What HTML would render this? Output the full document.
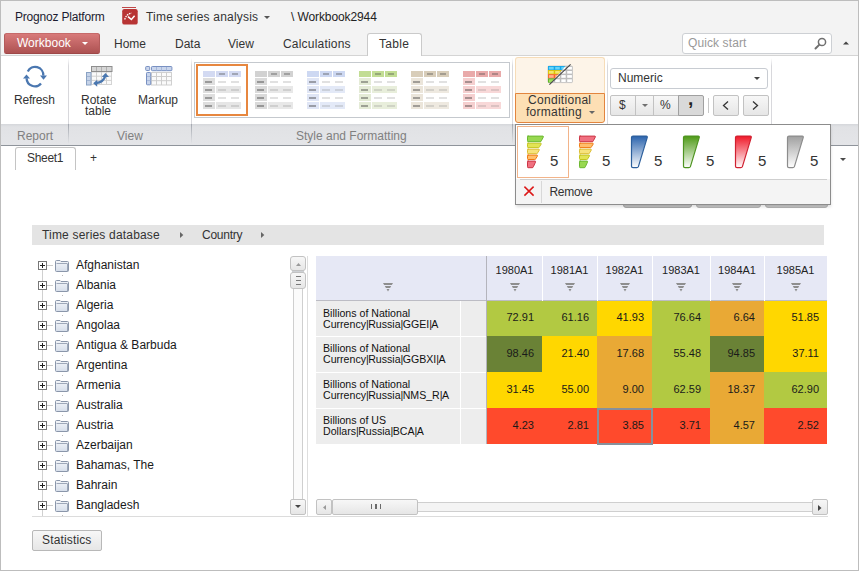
<!DOCTYPE html>
<html><head><meta charset="utf-8">
<style>
*{box-sizing:border-box;margin:0;padding:0}
html,body{width:859px;height:571px;overflow:hidden;background:#fff}
body{position:relative;font-family:"Liberation Sans",sans-serif;font-size:12px;color:#222}
.a{position:absolute}
.t{position:absolute;white-space:nowrap;line-height:12px;font-size:12px}
.s11{font-size:11px;line-height:11px}
.tab{position:absolute;top:37px;color:#333}
.grp{position:absolute;top:129px;color:#808080}
.btn{position:absolute;border:1px solid #c2c2c2;border-radius:2px;background:linear-gradient(#f7f7f7,#e6e6e6)}
.tr{position:absolute;left:0;height:20px;width:300px}
</style></head><body>
<!-- outer frame -->
<div class="a" style="left:0;top:0;width:859px;height:571px;border:1px solid #bdbdbd;z-index:5"></div>
<!-- header bg -->
<div class="a" style="left:1px;top:1px;width:857px;height:55px;background:#f3f3f3;border-bottom:1px solid #d4d4d4"></div>

<div class="t" id="pp" style="left:15px;top:11px;color:#1c1c30;letter-spacing:-0.2px">Prognoz Platform</div>
<!-- app icon -->
<svg class="a" style="left:121px;top:6px" width="18" height="20" viewBox="0 0 18 20">
 <rect x="1" y="1" width="14" height="1" fill="#c04848"/>
 <rect x="1.2" y="3" width="15.5" height="15.6" rx="2.2" fill="#b83434"/>
 <path d="M3.7 13.5 Q5 8.5 10.5 7" stroke="#fff" stroke-width="1.3" stroke-dasharray="1.6 0.8" fill="none"/>
 <path d="M7 10.6 L10.4 13.5 L13.6 9.8" stroke="#fff" stroke-width="1.5" fill="none"/>
</svg>
<div class="t" id="tsa" style="left:146px;top:11px;color:#333;letter-spacing:0.2px">Time series analysis</div>
<svg class="a" style="left:263.5px;top:16px" width="6" height="3"><path d="M0 0H6L3 3Z" fill="#555"/></svg>
<div class="t" id="wb" style="left:291px;top:11px;color:#222;letter-spacing:-0.1px">\ Workbook2944</div>

<!-- Workbook button -->
<div class="a" style="left:4px;top:33px;width:96px;height:21px;border-radius:2.5px;background:linear-gradient(#d87a7a,#ad5252);border:1px solid;border-color:#c66a6a #b35b5b #9e4848"></div>
<div class="t" style="left:17px;top:37px;color:#fff">Workbook</div>
<svg class="a" style="left:82px;top:42px" width="6" height="3"><path d="M0 0H6L3 3Z" fill="#fff"/></svg>

<div class="tab" style="left:114px">Home</div>
<div class="tab" style="left:175px">Data</div>
<div class="tab" style="left:228px">View</div>
<div class="tab" style="left:283px;letter-spacing:0.2px">Calculations</div>
<div class="a" style="left:367px;top:33px;width:55px;height:24px;background:#fff;border:1px solid #cacaca;border-bottom:none;border-radius:3px 3px 0 0"></div>
<div class="tab" style="left:379px;letter-spacing:0.3px">Table</div>

<!-- quick start -->
<div class="a" style="left:682px;top:33px;width:150px;height:21px;background:#fff;border:1px solid #cdd0d4;border-radius:3px"></div>
<div class="t" style="left:688px;top:37px;color:#999;letter-spacing:0.1px">Quick start</div>
<svg class="a" style="left:814px;top:37px" width="13" height="13" viewBox="0 0 13 13"><circle cx="8" cy="5" r="3.6" stroke="#707070" stroke-width="1.5" fill="none"/><path d="M5.4 7.6 L1.5 11.5" stroke="#707070" stroke-width="2" stroke-linecap="round"/></svg>
<svg class="a" style="left:843px;top:41px" width="6" height="4"><path d="M0 3.5H6L3 0.5Z" fill="#444"/></svg>

<!-- ribbon body -->
<div class="a" style="left:1px;top:56px;width:857px;height:68px;background:#fff"></div>
<!-- label bar -->
<div class="a" style="left:1px;top:124px;width:857px;height:21px;background:linear-gradient(#d5d7db,#e1e2e5 3px,#e4e5e8)"></div>
<div class="a" style="left:1px;top:145px;width:857px;height:1px;background:#8f949b"></div>
<div class="grp" style="left:17px">Report</div>
<div class="grp" style="left:117px">View</div>
<div class="grp" style="left:296px">Style and Formatting</div>
<!-- separators -->
<div class="a" style="left:68px;top:58px;width:1px;height:66px;background:linear-gradient(rgba(216,216,220,0),#d8d8dc 8px)"></div>
<div class="a" style="left:191px;top:58px;width:1px;height:66px;background:linear-gradient(rgba(216,216,220,0),#d8d8dc 8px)"></div>
<div class="a" style="left:512px;top:58px;width:1px;height:66px;background:linear-gradient(rgba(216,216,220,0),#d8d8dc 8px)"></div>
<div class="a" style="left:607px;top:58px;width:1px;height:66px;background:linear-gradient(rgba(216,216,220,0),#d8d8dc 8px)"></div>
<div class="a" style="left:771px;top:58px;width:1px;height:66px;background:linear-gradient(rgba(216,216,220,0),#d8d8dc 8px)"></div>
<div class="a" style="left:68px;top:124px;width:1px;height:20px;background:linear-gradient(#a4a8b0,rgba(200,202,206,0))"></div>
<div class="a" style="left:191px;top:124px;width:1px;height:20px;background:linear-gradient(#a4a8b0,rgba(200,202,206,0))"></div>
<div class="a" style="left:512px;top:124px;width:1px;height:20px;background:linear-gradient(#a4a8b0,rgba(200,202,206,0))"></div>
<div class="a" style="left:607px;top:124px;width:1px;height:20px;background:linear-gradient(#a4a8b0,rgba(200,202,206,0))"></div>
<div class="a" style="left:771px;top:124px;width:1px;height:20px;background:linear-gradient(#a4a8b0,rgba(200,202,206,0))"></div>

<!-- Refresh -->
<svg class="a" style="left:18px;top:60px" width="36" height="32" viewBox="0 0 36 32">
 <path d="M9.8 11.4 A8.2 8.2 0 0 1 25.3 15.6" stroke="#4a77b0" stroke-width="2.3" fill="none"/>
 <path d="M23 23.4 A8.2 8.2 0 0 1 8.6 18.2" stroke="#4a77b0" stroke-width="2.3" fill="none"/>
 <path d="M22 15.4 H29 L25.5 19.8 Z" fill="#4a77b0"/>
 <path d="M5 18.6 H12 L8.5 14.6 Z" fill="#4a77b0"/>
</svg>
<div class="t" style="left:14px;top:94px;color:#333;letter-spacing:-0.2px">Refresh</div>
<!-- Rotate table -->
<svg class="a" style="left:82px;top:62px" width="34" height="28" viewBox="0 0 34 28">
 <rect x="9.5" y="10" width="20" height="12.5" fill="#fafafa" stroke="#d4d4d4"/>
 <path d="M14.5 10V22.5M19.5 10V22.5M24.5 10V22.5M9.5 14.2H29.5M9.5 18.4H29.5" stroke="#d0d0d0" stroke-width="1"/>
 <rect x="9.5" y="4.5" width="20.5" height="5" fill="#d6d6d6" stroke="#8e8e8e"/>
 <path d="M14.5 5V9M19.5 5V9M24.5 5V9" stroke="#b0b0b0"/>
 <rect x="4.5" y="10.5" width="4.5" height="12.5" fill="#c6d3e8" stroke="#8aa2c4"/>
 <path d="M5 14.5H8.5M5 18.5H8.5" stroke="#9fb3d2"/>
 <path d="M14 21 Q21.5 20.5 23.4 13.5" stroke="#4a77b0" stroke-width="2.4" fill="none"/>
 <path d="M23.5 11 L19.8 15 L27 15 Z" fill="#4a77b0"/>
 <path d="M11.2 21.3 L15.2 17.8 L15.2 24.8 Z" fill="#4a77b0"/>
</svg>
<div class="t" style="left:81px;top:94px;color:#333">Rotate</div>
<div class="t" style="left:85px;top:105px;color:#333">table</div>
<!-- Markup -->
<svg class="a" style="left:140px;top:62px" width="36" height="28" viewBox="0 0 36 28">
 <rect x="11.5" y="10.5" width="20" height="12.5" fill="#fafafa" stroke="#d0d0d0"/>
 <path d="M16.5 10.5V23M21.5 10.5V23M26.5 10.5V23M11.5 14.5H31.5M11.5 18.7H31.5" stroke="#cdcdcd" stroke-width="1"/>
 <rect x="5.7" y="4.5" width="4" height="4" rx="0.8" fill="#cbd6ec" stroke="#7890c2"/>
 <rect x="11.5" y="4.5" width="20.4" height="4.2" rx="0.8" fill="#c9d5ec" stroke="#7890c2"/>
 <path d="M16.5 5V8.5M21.5 5V8.5M26.5 5V8.5" stroke="#a5b7d8"/>
 <rect x="6.5" y="10.5" width="4.2" height="12.3" rx="0.8" fill="#c9d5ec" stroke="#7890c2"/>
 <path d="M7 14.5H10.5M7 18.6H10.5" stroke="#a5b7d8"/>
</svg>
<div class="t" style="left:138px;top:94px;color:#333">Markup</div>

<!-- GALLERY -->
<div class="a" style="left:194px;top:62px;width:316px;height:56px;border:1px solid #c5c9ce"></div>
<div class="a" style="left:196px;top:64px;width:52px;height:52px;border:2px solid #e7873f"></div>
<div class="a" style="left:203px;top:71px;width:12px;height:6px;background:#d3daf2"></div>
<div class="a" style="left:216px;top:71px;width:12px;height:6px;background:#d3daf2"></div>
<div class="a" style="left:229px;top:71px;width:12px;height:6px;background:#d3daf2"></div>
<div class="a" style="left:219px;top:73.0px;width:6px;height:2px;background:#444;opacity:.35"></div>
<div class="a" style="left:232px;top:73.0px;width:6px;height:2px;background:#444;opacity:.35"></div>
<div class="a" style="left:203px;top:78px;width:12px;height:7px;background:#dedede"></div>
<div class="a" style="left:205px;top:80.5px;width:7px;height:2px;background:#333;opacity:.4"></div>
<div class="a" style="left:218px;top:80.5px;width:8px;height:2px;background:#777;opacity:.22"></div>
<div class="a" style="left:231px;top:80.5px;width:8px;height:2px;background:#777;opacity:.22"></div>
<div class="a" style="left:203px;top:86px;width:12px;height:7px;background:#dedede"></div>
<div class="a" style="left:216px;top:86px;width:25px;height:7px;background:#e6e6e6"></div>
<div class="a" style="left:205px;top:88.5px;width:7px;height:2px;background:#333;opacity:.4"></div>
<div class="a" style="left:218px;top:88.5px;width:8px;height:2px;background:#777;opacity:.22"></div>
<div class="a" style="left:231px;top:88.5px;width:8px;height:2px;background:#777;opacity:.22"></div>
<div class="a" style="left:203px;top:94px;width:12px;height:7px;background:#dedede"></div>
<div class="a" style="left:205px;top:96.5px;width:7px;height:2px;background:#333;opacity:.4"></div>
<div class="a" style="left:218px;top:96.5px;width:8px;height:2px;background:#777;opacity:.22"></div>
<div class="a" style="left:231px;top:96.5px;width:8px;height:2px;background:#777;opacity:.22"></div>
<div class="a" style="left:203px;top:102px;width:12px;height:7px;background:#dedede"></div>
<div class="a" style="left:216px;top:102px;width:25px;height:7px;background:#e6e6e6"></div>
<div class="a" style="left:205px;top:104.5px;width:7px;height:2px;background:#333;opacity:.4"></div>
<div class="a" style="left:218px;top:104.5px;width:8px;height:2px;background:#777;opacity:.22"></div>
<div class="a" style="left:231px;top:104.5px;width:8px;height:2px;background:#777;opacity:.22"></div>
<div class="a" style="left:255px;top:71px;width:12px;height:6px;background:#d2d2d2"></div>
<div class="a" style="left:268px;top:71px;width:12px;height:6px;background:#d2d2d2"></div>
<div class="a" style="left:281px;top:71px;width:12px;height:6px;background:#d2d2d2"></div>
<div class="a" style="left:271px;top:73.0px;width:6px;height:2px;background:#444;opacity:.35"></div>
<div class="a" style="left:284px;top:73.0px;width:6px;height:2px;background:#444;opacity:.35"></div>
<div class="a" style="left:255px;top:78px;width:12px;height:7px;background:#dadada"></div>
<div class="a" style="left:257px;top:80.5px;width:7px;height:2px;background:#333;opacity:.4"></div>
<div class="a" style="left:270px;top:80.5px;width:8px;height:2px;background:#777;opacity:.22"></div>
<div class="a" style="left:283px;top:80.5px;width:8px;height:2px;background:#777;opacity:.22"></div>
<div class="a" style="left:255px;top:86px;width:12px;height:7px;background:#dadada"></div>
<div class="a" style="left:268px;top:86px;width:25px;height:7px;background:#e8e8e8"></div>
<div class="a" style="left:257px;top:88.5px;width:7px;height:2px;background:#333;opacity:.4"></div>
<div class="a" style="left:270px;top:88.5px;width:8px;height:2px;background:#777;opacity:.22"></div>
<div class="a" style="left:283px;top:88.5px;width:8px;height:2px;background:#777;opacity:.22"></div>
<div class="a" style="left:255px;top:94px;width:12px;height:7px;background:#dadada"></div>
<div class="a" style="left:257px;top:96.5px;width:7px;height:2px;background:#333;opacity:.4"></div>
<div class="a" style="left:270px;top:96.5px;width:8px;height:2px;background:#777;opacity:.22"></div>
<div class="a" style="left:283px;top:96.5px;width:8px;height:2px;background:#777;opacity:.22"></div>
<div class="a" style="left:255px;top:102px;width:12px;height:7px;background:#dadada"></div>
<div class="a" style="left:268px;top:102px;width:25px;height:7px;background:#e8e8e8"></div>
<div class="a" style="left:257px;top:104.5px;width:7px;height:2px;background:#333;opacity:.4"></div>
<div class="a" style="left:270px;top:104.5px;width:8px;height:2px;background:#777;opacity:.22"></div>
<div class="a" style="left:283px;top:104.5px;width:8px;height:2px;background:#777;opacity:.22"></div>
<div class="a" style="left:307px;top:71px;width:12px;height:6px;background:#cdd8f2"></div>
<div class="a" style="left:320px;top:71px;width:12px;height:6px;background:#cdd8f2"></div>
<div class="a" style="left:333px;top:71px;width:12px;height:6px;background:#cdd8f2"></div>
<div class="a" style="left:323px;top:73.0px;width:6px;height:2px;background:#444;opacity:.35"></div>
<div class="a" style="left:336px;top:73.0px;width:6px;height:2px;background:#444;opacity:.35"></div>
<div class="a" style="left:307px;top:78px;width:12px;height:7px;background:#dfe5f5"></div>
<div class="a" style="left:309px;top:80.5px;width:7px;height:2px;background:#333;opacity:.4"></div>
<div class="a" style="left:322px;top:80.5px;width:8px;height:2px;background:#777;opacity:.22"></div>
<div class="a" style="left:335px;top:80.5px;width:8px;height:2px;background:#777;opacity:.22"></div>
<div class="a" style="left:307px;top:86px;width:12px;height:7px;background:#dfe5f5"></div>
<div class="a" style="left:320px;top:86px;width:25px;height:7px;background:#e3e9f7"></div>
<div class="a" style="left:309px;top:88.5px;width:7px;height:2px;background:#333;opacity:.4"></div>
<div class="a" style="left:322px;top:88.5px;width:8px;height:2px;background:#777;opacity:.22"></div>
<div class="a" style="left:335px;top:88.5px;width:8px;height:2px;background:#777;opacity:.22"></div>
<div class="a" style="left:307px;top:94px;width:12px;height:7px;background:#dfe5f5"></div>
<div class="a" style="left:309px;top:96.5px;width:7px;height:2px;background:#333;opacity:.4"></div>
<div class="a" style="left:322px;top:96.5px;width:8px;height:2px;background:#777;opacity:.22"></div>
<div class="a" style="left:335px;top:96.5px;width:8px;height:2px;background:#777;opacity:.22"></div>
<div class="a" style="left:307px;top:102px;width:12px;height:7px;background:#dfe5f5"></div>
<div class="a" style="left:320px;top:102px;width:25px;height:7px;background:#e3e9f7"></div>
<div class="a" style="left:309px;top:104.5px;width:7px;height:2px;background:#333;opacity:.4"></div>
<div class="a" style="left:322px;top:104.5px;width:8px;height:2px;background:#777;opacity:.22"></div>
<div class="a" style="left:335px;top:104.5px;width:8px;height:2px;background:#777;opacity:.22"></div>
<div class="a" style="left:359px;top:71px;width:12px;height:6px;background:#c2dd94"></div>
<div class="a" style="left:372px;top:71px;width:12px;height:6px;background:#c2dd94"></div>
<div class="a" style="left:385px;top:71px;width:12px;height:6px;background:#c2dd94"></div>
<div class="a" style="left:375px;top:73.0px;width:6px;height:2px;background:#444;opacity:.35"></div>
<div class="a" style="left:388px;top:73.0px;width:6px;height:2px;background:#444;opacity:.35"></div>
<div class="a" style="left:359px;top:78px;width:12px;height:7px;background:#e4ebd6"></div>
<div class="a" style="left:361px;top:80.5px;width:7px;height:2px;background:#333;opacity:.4"></div>
<div class="a" style="left:374px;top:80.5px;width:8px;height:2px;background:#777;opacity:.22"></div>
<div class="a" style="left:387px;top:80.5px;width:8px;height:2px;background:#777;opacity:.22"></div>
<div class="a" style="left:359px;top:86px;width:12px;height:7px;background:#e4ebd6"></div>
<div class="a" style="left:372px;top:86px;width:25px;height:7px;background:#e8eedb"></div>
<div class="a" style="left:361px;top:88.5px;width:7px;height:2px;background:#333;opacity:.4"></div>
<div class="a" style="left:374px;top:88.5px;width:8px;height:2px;background:#777;opacity:.22"></div>
<div class="a" style="left:387px;top:88.5px;width:8px;height:2px;background:#777;opacity:.22"></div>
<div class="a" style="left:359px;top:94px;width:12px;height:7px;background:#e4ebd6"></div>
<div class="a" style="left:361px;top:96.5px;width:7px;height:2px;background:#333;opacity:.4"></div>
<div class="a" style="left:374px;top:96.5px;width:8px;height:2px;background:#777;opacity:.22"></div>
<div class="a" style="left:387px;top:96.5px;width:8px;height:2px;background:#777;opacity:.22"></div>
<div class="a" style="left:359px;top:102px;width:12px;height:7px;background:#e4ebd6"></div>
<div class="a" style="left:372px;top:102px;width:25px;height:7px;background:#e8eedb"></div>
<div class="a" style="left:361px;top:104.5px;width:7px;height:2px;background:#333;opacity:.4"></div>
<div class="a" style="left:374px;top:104.5px;width:8px;height:2px;background:#777;opacity:.22"></div>
<div class="a" style="left:387px;top:104.5px;width:8px;height:2px;background:#777;opacity:.22"></div>
<div class="a" style="left:411px;top:71px;width:12px;height:6px;background:#d8cdb9"></div>
<div class="a" style="left:424px;top:71px;width:12px;height:6px;background:#d8cdb9"></div>
<div class="a" style="left:437px;top:71px;width:12px;height:6px;background:#d8cdb9"></div>
<div class="a" style="left:427px;top:73.0px;width:6px;height:2px;background:#444;opacity:.35"></div>
<div class="a" style="left:440px;top:73.0px;width:6px;height:2px;background:#444;opacity:.35"></div>
<div class="a" style="left:411px;top:78px;width:12px;height:7px;background:#ebe5da"></div>
<div class="a" style="left:413px;top:80.5px;width:7px;height:2px;background:#333;opacity:.4"></div>
<div class="a" style="left:426px;top:80.5px;width:8px;height:2px;background:#777;opacity:.22"></div>
<div class="a" style="left:439px;top:80.5px;width:8px;height:2px;background:#777;opacity:.22"></div>
<div class="a" style="left:411px;top:86px;width:12px;height:7px;background:#ebe5da"></div>
<div class="a" style="left:424px;top:86px;width:25px;height:7px;background:#eee9e0"></div>
<div class="a" style="left:413px;top:88.5px;width:7px;height:2px;background:#333;opacity:.4"></div>
<div class="a" style="left:426px;top:88.5px;width:8px;height:2px;background:#777;opacity:.22"></div>
<div class="a" style="left:439px;top:88.5px;width:8px;height:2px;background:#777;opacity:.22"></div>
<div class="a" style="left:411px;top:94px;width:12px;height:7px;background:#ebe5da"></div>
<div class="a" style="left:413px;top:96.5px;width:7px;height:2px;background:#333;opacity:.4"></div>
<div class="a" style="left:426px;top:96.5px;width:8px;height:2px;background:#777;opacity:.22"></div>
<div class="a" style="left:439px;top:96.5px;width:8px;height:2px;background:#777;opacity:.22"></div>
<div class="a" style="left:411px;top:102px;width:12px;height:7px;background:#ebe5da"></div>
<div class="a" style="left:424px;top:102px;width:25px;height:7px;background:#eee9e0"></div>
<div class="a" style="left:413px;top:104.5px;width:7px;height:2px;background:#333;opacity:.4"></div>
<div class="a" style="left:426px;top:104.5px;width:8px;height:2px;background:#777;opacity:.22"></div>
<div class="a" style="left:439px;top:104.5px;width:8px;height:2px;background:#777;opacity:.22"></div>
<div class="a" style="left:463px;top:71px;width:12px;height:6px;background:#e9aaaa"></div>
<div class="a" style="left:476px;top:71px;width:12px;height:6px;background:#e9aaaa"></div>
<div class="a" style="left:489px;top:71px;width:12px;height:6px;background:#e9aaaa"></div>
<div class="a" style="left:479px;top:73.0px;width:6px;height:2px;background:#444;opacity:.35"></div>
<div class="a" style="left:492px;top:73.0px;width:6px;height:2px;background:#444;opacity:.35"></div>
<div class="a" style="left:463px;top:78px;width:12px;height:7px;background:#f5cfcf"></div>
<div class="a" style="left:465px;top:80.5px;width:7px;height:2px;background:#333;opacity:.4"></div>
<div class="a" style="left:478px;top:80.5px;width:8px;height:2px;background:#777;opacity:.22"></div>
<div class="a" style="left:491px;top:80.5px;width:8px;height:2px;background:#777;opacity:.22"></div>
<div class="a" style="left:463px;top:86px;width:12px;height:7px;background:#f5cfcf"></div>
<div class="a" style="left:476px;top:86px;width:25px;height:7px;background:#f8d8d8"></div>
<div class="a" style="left:465px;top:88.5px;width:7px;height:2px;background:#333;opacity:.4"></div>
<div class="a" style="left:478px;top:88.5px;width:8px;height:2px;background:#777;opacity:.22"></div>
<div class="a" style="left:491px;top:88.5px;width:8px;height:2px;background:#777;opacity:.22"></div>
<div class="a" style="left:463px;top:94px;width:12px;height:7px;background:#f5cfcf"></div>
<div class="a" style="left:465px;top:96.5px;width:7px;height:2px;background:#333;opacity:.4"></div>
<div class="a" style="left:478px;top:96.5px;width:8px;height:2px;background:#777;opacity:.22"></div>
<div class="a" style="left:491px;top:96.5px;width:8px;height:2px;background:#777;opacity:.22"></div>
<div class="a" style="left:463px;top:102px;width:12px;height:7px;background:#f5cfcf"></div>
<div class="a" style="left:476px;top:102px;width:25px;height:7px;background:#f8d8d8"></div>
<div class="a" style="left:465px;top:104.5px;width:7px;height:2px;background:#333;opacity:.4"></div>
<div class="a" style="left:478px;top:104.5px;width:8px;height:2px;background:#777;opacity:.22"></div>
<div class="a" style="left:491px;top:104.5px;width:8px;height:2px;background:#777;opacity:.22"></div>

<!-- Conditional formatting -->
<div class="a" style="left:515px;top:57px;width:90px;height:37px;background:#fdf4e8;border:1px solid #f6dcb8;border-bottom:none;border-radius:3px 3px 0 0"></div>
<div class="a" style="left:515px;top:93px;width:90px;height:30px;background:#fddfb4;border:1px solid #e2853e;border-radius:0 0 3px 3px"></div>
<svg class="a" style="left:544px;top:60px" width="34" height="28" viewBox="0 0 34 28">
 <defs><clipPath id="cfc"><path d="M0 0 H26.5 L5.4 24.5 H0Z"/></clipPath></defs>
 <rect x="4" y="6" width="24.5" height="16.6" rx="1" fill="#bdbdbd"/>
 <g fill="#fff"><rect x="4.9" y="6.9" width="4.8" height="2.6"/><rect x="11.2" y="6.9" width="4.6" height="2.6"/><rect x="17.3" y="6.9" width="4.4" height="2.6"/><rect x="23.2" y="6.9" width="4.7" height="2.6"/><rect x="4.9" y="11.0" width="4.8" height="2.6"/><rect x="11.2" y="11.0" width="4.6" height="2.6"/><rect x="17.3" y="11.0" width="4.4" height="2.6"/><rect x="23.2" y="11.0" width="4.7" height="2.6"/><rect x="4.9" y="15.1" width="4.8" height="2.7"/><rect x="11.2" y="15.1" width="4.6" height="2.7"/><rect x="17.3" y="15.1" width="4.4" height="2.7"/><rect x="23.2" y="15.1" width="4.7" height="2.7"/><rect x="4.9" y="19.3" width="4.8" height="2.7"/><rect x="11.2" y="19.3" width="4.6" height="2.7"/><rect x="17.3" y="19.3" width="4.4" height="2.7"/><rect x="23.2" y="19.3" width="4.7" height="2.7"/></g>
 <rect x="4" y="6" width="24.5" height="16.6" rx="1" fill="none" stroke="#c4c4c4" stroke-width="0.8"/>
 <g clip-path="url(#cfc)">
  <rect x="4" y="6" width="24.5" height="4.1" fill="#18a6e6"/>
  <rect x="4" y="10.1" width="24.5" height="4.1" fill="#dcc400"/>
  <rect x="4" y="14.2" width="24.5" height="4.2" fill="#fc6620"/>
  <rect x="4" y="18.4" width="24.5" height="4.2" fill="#5cb020"/>
  <rect x="4.9" y="6.9" width="4.8" height="2.6" fill="#66d4fa"/><rect x="11.2" y="6.9" width="4.6" height="2.6" fill="#66d4fa"/><rect x="17.3" y="6.9" width="4.4" height="2.6" fill="#66d4fa"/><rect x="23.2" y="6.9" width="4.7" height="2.6" fill="#66d4fa"/><rect x="4.9" y="11.0" width="4.8" height="2.6" fill="#f6e670"/><rect x="11.2" y="11.0" width="4.6" height="2.6" fill="#f6e670"/><rect x="17.3" y="11.0" width="4.4" height="2.6" fill="#f6e670"/><rect x="23.2" y="11.0" width="4.7" height="2.6" fill="#f6e670"/><rect x="4.9" y="15.1" width="4.8" height="2.7" fill="#ffb08e"/><rect x="11.2" y="15.1" width="4.6" height="2.7" fill="#ffb08e"/><rect x="17.3" y="15.1" width="4.4" height="2.7" fill="#ffb08e"/><rect x="23.2" y="15.1" width="4.7" height="2.7" fill="#ffb08e"/><rect x="4.9" y="19.3" width="4.8" height="2.7" fill="#a0de60"/><rect x="11.2" y="19.3" width="4.6" height="2.7" fill="#a0de60"/><rect x="17.3" y="19.3" width="4.4" height="2.7" fill="#a0de60"/><rect x="23.2" y="19.3" width="4.7" height="2.7" fill="#a0de60"/>
 </g>
 <path d="M5.4 24.6 L26.6 4.3" stroke="#454545" stroke-width="1.1"/>
</svg>
<div class="t" style="left:528px;top:94px;color:#333;letter-spacing:0.3px">Conditional</div>
<div class="t" style="left:526px;top:106px;color:#333;letter-spacing:0.25px">formatting</div>
<svg class="a" style="left:589px;top:111px" width="6" height="3"><path d="M0 0H6L3 3Z" fill="#666"/></svg>

<!-- Number format -->
<div class="a" style="left:610px;top:68px;width:158px;height:21px;background:#fff;border:1px solid #c8ccd2;border-radius:3px"></div>
<div class="t" style="left:618px;top:72px;color:#333">Numeric</div>
<svg class="a" style="left:753.5px;top:77px" width="6" height="3"><path d="M0 0H6L3 3Z" fill="#444"/></svg>
<div class="btn" style="left:610px;top:95px;width:26px;height:21px;border-radius:2px 0 0 2px"></div>
<div class="btn" style="left:635px;top:95px;width:19px;height:21px;border-radius:0"></div>
<div class="btn" style="left:653px;top:95px;width:26px;height:21px;border-radius:0"></div>
<div class="btn" style="left:678px;top:95px;width:26px;height:21px;border-radius:0 2px 2px 0;background:#d9d9d9;border-color:#a0a0a0"></div>
<div class="t" style="left:619px;top:99px;color:#333">$</div>
<svg class="a" style="left:641.5px;top:104px" width="6" height="3"><path d="M0 0H6L3 3Z" fill="#707070"/></svg>
<div class="t" style="left:660px;top:99px;color:#333">%</div>
<div class="t" style="left:688px;top:89px;color:#222;font-weight:bold;font-size:19px;line-height:19px">,</div>
<div class="a" style="left:708px;top:98px;width:1px;height:15px;background:#c8c8c8"></div>
<div class="btn" style="left:713px;top:95px;width:26px;height:21px"></div>
<div class="btn" style="left:743px;top:95px;width:26px;height:21px"></div>
<svg class="a" style="left:722px;top:101px" width="7" height="9"><path d="M6 0.5 L1.5 4.5 L6 8.5" stroke="#333" stroke-width="1.3" fill="none"/></svg>
<svg class="a" style="left:752px;top:101px" width="7" height="9"><path d="M1 0.5 L5.5 4.5 L1 8.5" stroke="#333" stroke-width="1.3" fill="none"/></svg>

<!-- Sheet tabs -->
<div class="a" style="left:15px;top:147px;width:61px;height:23px;background:#fff;border:1px solid #c4c4c4;border-bottom:none;border-radius:3px 3px 0 0"></div>
<div class="t" style="left:27px;top:152px;color:#333;letter-spacing:-0.3px">Sheet1</div>
<div class="t" style="left:90px;top:152px;color:#333">+</div>
<svg class="a" style="left:840px;top:158px" width="6" height="3"><path d="M0 0H6L3 3Z" fill="#4a4a4a"/></svg>

<!-- hidden buttons behind popup -->
<div class="a" style="left:623px;top:198px;width:69px;height:10px;background:#c2c2c2;border:1px solid #a8a8a8;border-radius:0 0 3px 3px"></div>
<div class="a" style="left:696px;top:198px;width:65px;height:10px;background:#c8c8c8;border:1px solid #b4b4b4;border-radius:0 0 3px 3px"></div>
<div class="a" style="left:765px;top:198px;width:63px;height:10px;background:#c8c8c8;border:1px solid #b4b4b4;border-radius:0 0 3px 3px"></div>

<!-- breadcrumb -->
<div class="a" style="left:32px;top:225px;width:792px;height:20px;background:#e4e4e4"></div>
<div class="t" style="left:42px;top:229px;color:#333;letter-spacing:0.18px">Time series database</div>
<svg class="a" style="left:180px;top:231.5px" width="4" height="6"><path d="M0 0V6L3.3 3Z" fill="#666"/></svg>
<div class="t" style="left:202px;top:229px;color:#333;letter-spacing:-0.25px">Country</div>
<svg class="a" style="left:261px;top:231.5px" width="4" height="6"><path d="M0 0V6L3.3 3Z" fill="#666"/></svg>

<!-- TREE -->
<svg width="0" height="0" style="position:absolute"><defs><linearGradient id="fg" x1="0" y1="0" x2="0" y2="1"><stop offset="0" stop-color="#f4f6fa"/><stop offset="1" stop-color="#d6deea"/></linearGradient></defs></svg>
<div class="a" style="left:42px;top:270px;width:1px;height:246px;background:#d0d0d0"></div>
<div class="a" style="left:38px;top:261px;width:9px;height:9px;border:1px solid #777;background:#fff"></div>
<div class="a" style="left:40px;top:265px;width:5px;height:1px;background:#222"></div>
<div class="a" style="left:42px;top:263px;width:1px;height:5px;background:#222"></div>
<div class="a" style="left:47px;top:265px;width:6px;height:1px;background:#ccc"></div>
<svg class="a" style="left:55px;top:260px" width="14" height="12" viewBox="0 0 14 12"><path d="M0.5 1.5 Q0.5 0.5 1.5 0.5 H5 L6 1.5 H12.5 Q13.5 1.5 13.5 2.5 V10.5 Q13.5 11.5 12.5 11.5 H1.5 Q0.5 11.5 0.5 10.5Z" fill="url(#fg)" stroke="#8a96aa"/><path d="M1.5 3.5 H12 Q12.5 3.5 12.5 4 V11" fill="none" stroke="#8a96aa" stroke-width="0.8"/></svg>
<div class="t" style="left:76px;top:259px;color:#1a1a1a">Afghanistan</div>
<div class="a" style="left:62px;top:275px;width:1px;height:1px;background:#b8b8b8"></div>
<div class="a" style="left:38px;top:281px;width:9px;height:9px;border:1px solid #777;background:#fff"></div>
<div class="a" style="left:40px;top:285px;width:5px;height:1px;background:#222"></div>
<div class="a" style="left:42px;top:283px;width:1px;height:5px;background:#222"></div>
<div class="a" style="left:47px;top:285px;width:6px;height:1px;background:#ccc"></div>
<svg class="a" style="left:55px;top:280px" width="14" height="12" viewBox="0 0 14 12"><path d="M0.5 1.5 Q0.5 0.5 1.5 0.5 H5 L6 1.5 H12.5 Q13.5 1.5 13.5 2.5 V10.5 Q13.5 11.5 12.5 11.5 H1.5 Q0.5 11.5 0.5 10.5Z" fill="url(#fg)" stroke="#8a96aa"/><path d="M1.5 3.5 H12 Q12.5 3.5 12.5 4 V11" fill="none" stroke="#8a96aa" stroke-width="0.8"/></svg>
<div class="t" style="left:76px;top:279px;color:#1a1a1a">Albania</div>
<div class="a" style="left:62px;top:295px;width:1px;height:1px;background:#b8b8b8"></div>
<div class="a" style="left:38px;top:301px;width:9px;height:9px;border:1px solid #777;background:#fff"></div>
<div class="a" style="left:40px;top:305px;width:5px;height:1px;background:#222"></div>
<div class="a" style="left:42px;top:303px;width:1px;height:5px;background:#222"></div>
<div class="a" style="left:47px;top:305px;width:6px;height:1px;background:#ccc"></div>
<svg class="a" style="left:55px;top:300px" width="14" height="12" viewBox="0 0 14 12"><path d="M0.5 1.5 Q0.5 0.5 1.5 0.5 H5 L6 1.5 H12.5 Q13.5 1.5 13.5 2.5 V10.5 Q13.5 11.5 12.5 11.5 H1.5 Q0.5 11.5 0.5 10.5Z" fill="url(#fg)" stroke="#8a96aa"/><path d="M1.5 3.5 H12 Q12.5 3.5 12.5 4 V11" fill="none" stroke="#8a96aa" stroke-width="0.8"/></svg>
<div class="t" style="left:76px;top:299px;color:#1a1a1a">Algeria</div>
<div class="a" style="left:62px;top:315px;width:1px;height:1px;background:#b8b8b8"></div>
<div class="a" style="left:38px;top:321px;width:9px;height:9px;border:1px solid #777;background:#fff"></div>
<div class="a" style="left:40px;top:325px;width:5px;height:1px;background:#222"></div>
<div class="a" style="left:42px;top:323px;width:1px;height:5px;background:#222"></div>
<div class="a" style="left:47px;top:325px;width:6px;height:1px;background:#ccc"></div>
<svg class="a" style="left:55px;top:320px" width="14" height="12" viewBox="0 0 14 12"><path d="M0.5 1.5 Q0.5 0.5 1.5 0.5 H5 L6 1.5 H12.5 Q13.5 1.5 13.5 2.5 V10.5 Q13.5 11.5 12.5 11.5 H1.5 Q0.5 11.5 0.5 10.5Z" fill="url(#fg)" stroke="#8a96aa"/><path d="M1.5 3.5 H12 Q12.5 3.5 12.5 4 V11" fill="none" stroke="#8a96aa" stroke-width="0.8"/></svg>
<div class="t" style="left:76px;top:319px;color:#1a1a1a">Angolaa</div>
<div class="a" style="left:62px;top:335px;width:1px;height:1px;background:#b8b8b8"></div>
<div class="a" style="left:38px;top:341px;width:9px;height:9px;border:1px solid #777;background:#fff"></div>
<div class="a" style="left:40px;top:345px;width:5px;height:1px;background:#222"></div>
<div class="a" style="left:42px;top:343px;width:1px;height:5px;background:#222"></div>
<div class="a" style="left:47px;top:345px;width:6px;height:1px;background:#ccc"></div>
<svg class="a" style="left:55px;top:340px" width="14" height="12" viewBox="0 0 14 12"><path d="M0.5 1.5 Q0.5 0.5 1.5 0.5 H5 L6 1.5 H12.5 Q13.5 1.5 13.5 2.5 V10.5 Q13.5 11.5 12.5 11.5 H1.5 Q0.5 11.5 0.5 10.5Z" fill="url(#fg)" stroke="#8a96aa"/><path d="M1.5 3.5 H12 Q12.5 3.5 12.5 4 V11" fill="none" stroke="#8a96aa" stroke-width="0.8"/></svg>
<div class="t" style="left:76px;top:339px;color:#1a1a1a">Antigua &amp; Barbuda</div>
<div class="a" style="left:62px;top:355px;width:1px;height:1px;background:#b8b8b8"></div>
<div class="a" style="left:38px;top:361px;width:9px;height:9px;border:1px solid #777;background:#fff"></div>
<div class="a" style="left:40px;top:365px;width:5px;height:1px;background:#222"></div>
<div class="a" style="left:42px;top:363px;width:1px;height:5px;background:#222"></div>
<div class="a" style="left:47px;top:365px;width:6px;height:1px;background:#ccc"></div>
<svg class="a" style="left:55px;top:360px" width="14" height="12" viewBox="0 0 14 12"><path d="M0.5 1.5 Q0.5 0.5 1.5 0.5 H5 L6 1.5 H12.5 Q13.5 1.5 13.5 2.5 V10.5 Q13.5 11.5 12.5 11.5 H1.5 Q0.5 11.5 0.5 10.5Z" fill="url(#fg)" stroke="#8a96aa"/><path d="M1.5 3.5 H12 Q12.5 3.5 12.5 4 V11" fill="none" stroke="#8a96aa" stroke-width="0.8"/></svg>
<div class="t" style="left:76px;top:359px;color:#1a1a1a">Argentina</div>
<div class="a" style="left:62px;top:375px;width:1px;height:1px;background:#b8b8b8"></div>
<div class="a" style="left:38px;top:381px;width:9px;height:9px;border:1px solid #777;background:#fff"></div>
<div class="a" style="left:40px;top:385px;width:5px;height:1px;background:#222"></div>
<div class="a" style="left:42px;top:383px;width:1px;height:5px;background:#222"></div>
<div class="a" style="left:47px;top:385px;width:6px;height:1px;background:#ccc"></div>
<svg class="a" style="left:55px;top:380px" width="14" height="12" viewBox="0 0 14 12"><path d="M0.5 1.5 Q0.5 0.5 1.5 0.5 H5 L6 1.5 H12.5 Q13.5 1.5 13.5 2.5 V10.5 Q13.5 11.5 12.5 11.5 H1.5 Q0.5 11.5 0.5 10.5Z" fill="url(#fg)" stroke="#8a96aa"/><path d="M1.5 3.5 H12 Q12.5 3.5 12.5 4 V11" fill="none" stroke="#8a96aa" stroke-width="0.8"/></svg>
<div class="t" style="left:76px;top:379px;color:#1a1a1a">Armenia</div>
<div class="a" style="left:62px;top:395px;width:1px;height:1px;background:#b8b8b8"></div>
<div class="a" style="left:38px;top:401px;width:9px;height:9px;border:1px solid #777;background:#fff"></div>
<div class="a" style="left:40px;top:405px;width:5px;height:1px;background:#222"></div>
<div class="a" style="left:42px;top:403px;width:1px;height:5px;background:#222"></div>
<div class="a" style="left:47px;top:405px;width:6px;height:1px;background:#ccc"></div>
<svg class="a" style="left:55px;top:400px" width="14" height="12" viewBox="0 0 14 12"><path d="M0.5 1.5 Q0.5 0.5 1.5 0.5 H5 L6 1.5 H12.5 Q13.5 1.5 13.5 2.5 V10.5 Q13.5 11.5 12.5 11.5 H1.5 Q0.5 11.5 0.5 10.5Z" fill="url(#fg)" stroke="#8a96aa"/><path d="M1.5 3.5 H12 Q12.5 3.5 12.5 4 V11" fill="none" stroke="#8a96aa" stroke-width="0.8"/></svg>
<div class="t" style="left:76px;top:399px;color:#1a1a1a">Australia</div>
<div class="a" style="left:62px;top:415px;width:1px;height:1px;background:#b8b8b8"></div>
<div class="a" style="left:38px;top:421px;width:9px;height:9px;border:1px solid #777;background:#fff"></div>
<div class="a" style="left:40px;top:425px;width:5px;height:1px;background:#222"></div>
<div class="a" style="left:42px;top:423px;width:1px;height:5px;background:#222"></div>
<div class="a" style="left:47px;top:425px;width:6px;height:1px;background:#ccc"></div>
<svg class="a" style="left:55px;top:420px" width="14" height="12" viewBox="0 0 14 12"><path d="M0.5 1.5 Q0.5 0.5 1.5 0.5 H5 L6 1.5 H12.5 Q13.5 1.5 13.5 2.5 V10.5 Q13.5 11.5 12.5 11.5 H1.5 Q0.5 11.5 0.5 10.5Z" fill="url(#fg)" stroke="#8a96aa"/><path d="M1.5 3.5 H12 Q12.5 3.5 12.5 4 V11" fill="none" stroke="#8a96aa" stroke-width="0.8"/></svg>
<div class="t" style="left:76px;top:419px;color:#1a1a1a">Austria</div>
<div class="a" style="left:62px;top:435px;width:1px;height:1px;background:#b8b8b8"></div>
<div class="a" style="left:38px;top:441px;width:9px;height:9px;border:1px solid #777;background:#fff"></div>
<div class="a" style="left:40px;top:445px;width:5px;height:1px;background:#222"></div>
<div class="a" style="left:42px;top:443px;width:1px;height:5px;background:#222"></div>
<div class="a" style="left:47px;top:445px;width:6px;height:1px;background:#ccc"></div>
<svg class="a" style="left:55px;top:440px" width="14" height="12" viewBox="0 0 14 12"><path d="M0.5 1.5 Q0.5 0.5 1.5 0.5 H5 L6 1.5 H12.5 Q13.5 1.5 13.5 2.5 V10.5 Q13.5 11.5 12.5 11.5 H1.5 Q0.5 11.5 0.5 10.5Z" fill="url(#fg)" stroke="#8a96aa"/><path d="M1.5 3.5 H12 Q12.5 3.5 12.5 4 V11" fill="none" stroke="#8a96aa" stroke-width="0.8"/></svg>
<div class="t" style="left:76px;top:439px;color:#1a1a1a">Azerbaijan</div>
<div class="a" style="left:62px;top:455px;width:1px;height:1px;background:#b8b8b8"></div>
<div class="a" style="left:38px;top:461px;width:9px;height:9px;border:1px solid #777;background:#fff"></div>
<div class="a" style="left:40px;top:465px;width:5px;height:1px;background:#222"></div>
<div class="a" style="left:42px;top:463px;width:1px;height:5px;background:#222"></div>
<div class="a" style="left:47px;top:465px;width:6px;height:1px;background:#ccc"></div>
<svg class="a" style="left:55px;top:460px" width="14" height="12" viewBox="0 0 14 12"><path d="M0.5 1.5 Q0.5 0.5 1.5 0.5 H5 L6 1.5 H12.5 Q13.5 1.5 13.5 2.5 V10.5 Q13.5 11.5 12.5 11.5 H1.5 Q0.5 11.5 0.5 10.5Z" fill="url(#fg)" stroke="#8a96aa"/><path d="M1.5 3.5 H12 Q12.5 3.5 12.5 4 V11" fill="none" stroke="#8a96aa" stroke-width="0.8"/></svg>
<div class="t" style="left:76px;top:459px;color:#1a1a1a">Bahamas, The</div>
<div class="a" style="left:62px;top:475px;width:1px;height:1px;background:#b8b8b8"></div>
<div class="a" style="left:38px;top:481px;width:9px;height:9px;border:1px solid #777;background:#fff"></div>
<div class="a" style="left:40px;top:485px;width:5px;height:1px;background:#222"></div>
<div class="a" style="left:42px;top:483px;width:1px;height:5px;background:#222"></div>
<div class="a" style="left:47px;top:485px;width:6px;height:1px;background:#ccc"></div>
<svg class="a" style="left:55px;top:480px" width="14" height="12" viewBox="0 0 14 12"><path d="M0.5 1.5 Q0.5 0.5 1.5 0.5 H5 L6 1.5 H12.5 Q13.5 1.5 13.5 2.5 V10.5 Q13.5 11.5 12.5 11.5 H1.5 Q0.5 11.5 0.5 10.5Z" fill="url(#fg)" stroke="#8a96aa"/><path d="M1.5 3.5 H12 Q12.5 3.5 12.5 4 V11" fill="none" stroke="#8a96aa" stroke-width="0.8"/></svg>
<div class="t" style="left:76px;top:479px;color:#1a1a1a">Bahrain</div>
<div class="a" style="left:62px;top:495px;width:1px;height:1px;background:#b8b8b8"></div>
<div class="a" style="left:38px;top:501px;width:9px;height:9px;border:1px solid #777;background:#fff"></div>
<div class="a" style="left:40px;top:505px;width:5px;height:1px;background:#222"></div>
<div class="a" style="left:42px;top:503px;width:1px;height:5px;background:#222"></div>
<div class="a" style="left:47px;top:505px;width:6px;height:1px;background:#ccc"></div>
<svg class="a" style="left:55px;top:500px" width="14" height="12" viewBox="0 0 14 12"><path d="M0.5 1.5 Q0.5 0.5 1.5 0.5 H5 L6 1.5 H12.5 Q13.5 1.5 13.5 2.5 V10.5 Q13.5 11.5 12.5 11.5 H1.5 Q0.5 11.5 0.5 10.5Z" fill="url(#fg)" stroke="#8a96aa"/><path d="M1.5 3.5 H12 Q12.5 3.5 12.5 4 V11" fill="none" stroke="#8a96aa" stroke-width="0.8"/></svg>
<div class="t" style="left:76px;top:499px;color:#1a1a1a">Bangladesh</div>
<div class="a" style="left:62px;top:515px;width:1px;height:1px;background:#b8b8b8"></div>
<!-- tree scrollbar -->
<div class="a" style="left:293px;top:262px;width:10px;height:245px;background:#fbfbfb;border-left:1px solid #cfcfcf;border-right:1px solid #cfcfcf"></div>
<div class="a" style="left:292px;top:270px;width:12px;height:3px;background:#cdd0d4"></div>
<div class="btn" style="left:290px;top:256px;width:16px;height:15px;border-radius:3px"></div>
<svg class="a" style="left:296px;top:263px" width="5" height="3"><path d="M0 3H5L2.5 0Z" fill="#999"/></svg>
<div class="btn" style="left:290px;top:272px;width:16px;height:17px;border-radius:3px"></div>
<div class="a" style="left:296px;top:276px;width:5px;height:1.4px;background:#7a7a7a"></div>
<div class="a" style="left:296px;top:280px;width:5px;height:1.4px;background:#7a7a7a"></div>
<div class="a" style="left:296px;top:284px;width:5px;height:1.4px;background:#7a7a7a"></div>
<div class="btn" style="left:290px;top:499px;width:16px;height:16px"></div>
<svg class="a" style="left:295px;top:505px" width="6" height="3"><path d="M0 0H6L3 3Z" fill="#444"/></svg>
<div class="a" style="left:307px;top:256px;width:1px;height:260px;background:#dedede"></div>

<!-- TABLE -->
<div class="a" style="left:316px;top:256px;width:511px;height:45px;background:#e6e8f5"></div>
<div class="a" style="left:316px;top:300px;width:511px;height:1px;background:#bcbcc4"></div>
<div class="t s11" style="left:487px;width:55px;text-align:center;top:265px;color:#222;font-size:11px">1980A1</div>
<svg class="a" style="left:509.5px;top:283px" width="10" height="9" viewBox="0 0 10 9"><path d="M0 0H10L8.82 2H1.18Z M1.76 3H8.24L7.06 5H2.94Z M3.53 6H6.47L5 8.5Z" fill="#8e8e8e"/></svg>
<div class="a" style="left:542px;top:256px;width:1px;height:45px;background:#fff"></div>
<div class="t s11" style="left:542px;width:55px;text-align:center;top:265px;color:#222;font-size:11px">1981A1</div>
<svg class="a" style="left:564.5px;top:283px" width="10" height="9" viewBox="0 0 10 9"><path d="M0 0H10L8.82 2H1.18Z M1.76 3H8.24L7.06 5H2.94Z M3.53 6H6.47L5 8.5Z" fill="#8e8e8e"/></svg>
<div class="a" style="left:597px;top:256px;width:1px;height:45px;background:#fff"></div>
<div class="t s11" style="left:597px;width:55px;text-align:center;top:265px;color:#222;font-size:11px">1982A1</div>
<svg class="a" style="left:619.5px;top:283px" width="10" height="9" viewBox="0 0 10 9"><path d="M0 0H10L8.82 2H1.18Z M1.76 3H8.24L7.06 5H2.94Z M3.53 6H6.47L5 8.5Z" fill="#8e8e8e"/></svg>
<div class="a" style="left:652px;top:256px;width:1px;height:45px;background:#fff"></div>
<div class="t s11" style="left:652px;width:58px;text-align:center;top:265px;color:#222;font-size:11px">1983A1</div>
<svg class="a" style="left:676.0px;top:283px" width="10" height="9" viewBox="0 0 10 9"><path d="M0 0H10L8.82 2H1.18Z M1.76 3H8.24L7.06 5H2.94Z M3.53 6H6.47L5 8.5Z" fill="#8e8e8e"/></svg>
<div class="a" style="left:710px;top:256px;width:1px;height:45px;background:#fff"></div>
<div class="t s11" style="left:710px;width:54px;text-align:center;top:265px;color:#222;font-size:11px">1984A1</div>
<svg class="a" style="left:732.0px;top:283px" width="10" height="9" viewBox="0 0 10 9"><path d="M0 0H10L8.82 2H1.18Z M1.76 3H8.24L7.06 5H2.94Z M3.53 6H6.47L5 8.5Z" fill="#8e8e8e"/></svg>
<div class="a" style="left:764px;top:256px;width:1px;height:45px;background:#fff"></div>
<div class="t s11" style="left:764px;width:63px;text-align:center;top:265px;color:#222;font-size:11px">1985A1</div>
<svg class="a" style="left:790.5px;top:283px" width="10" height="9" viewBox="0 0 10 9"><path d="M0 0H10L8.82 2H1.18Z M1.76 3H8.24L7.06 5H2.94Z M3.53 6H6.47L5 8.5Z" fill="#8e8e8e"/></svg>
<svg class="a" style="left:383px;top:283px" width="10" height="9" viewBox="0 0 10 9"><path d="M0 0H10L8.82 2H1.18Z M1.76 3H8.24L7.06 5H2.94Z M3.53 6H6.47L5 8.5Z" fill="#8e8e8e"/></svg>
<div class="a" style="left:316px;top:301px;width:144px;height:35px;background:#ededed"></div>
<div class="a" style="left:461px;top:301px;width:25px;height:35px;background:#ededed"></div>
<div class="t" style="left:323px;top:308px;color:#111;font-size:10.6px;line-height:11px">Billions of National<br>Currency<span style="letter-spacing:-0.6px">|</span>Russia<span style="letter-spacing:-0.6px">|</span>GGEI<span style="letter-spacing:-0.6px">|</span>A</div>
<div class="a" style="left:487px;top:301px;width:55px;height:35px;background:#b2c942"></div>
<div class="t s11" style="left:487px;width:47px;text-align:right;top:311.5px;color:#1a1a1a">72.91</div>
<div class="a" style="left:542px;top:301px;width:55px;height:35px;background:#b2c942"></div>
<div class="t s11" style="left:542px;width:47px;text-align:right;top:311.5px;color:#1a1a1a">61.16</div>
<div class="a" style="left:597px;top:301px;width:55px;height:35px;background:#ffd700"></div>
<div class="t s11" style="left:597px;width:47px;text-align:right;top:311.5px;color:#1a1a1a">41.93</div>
<div class="a" style="left:652px;top:301px;width:58px;height:35px;background:#b2c942"></div>
<div class="t s11" style="left:652px;width:49px;text-align:right;top:311.5px;color:#1a1a1a">76.64</div>
<div class="a" style="left:710px;top:301px;width:54px;height:35px;background:#e9a935"></div>
<div class="t s11" style="left:710px;width:45px;text-align:right;top:311.5px;color:#1a1a1a">6.64</div>
<div class="a" style="left:764px;top:301px;width:63px;height:35px;background:#ffd700"></div>
<div class="t s11" style="left:764px;width:55px;text-align:right;top:311.5px;color:#1a1a1a">51.85</div>
<div class="a" style="left:316px;top:337px;width:144px;height:35px;background:#ededed"></div>
<div class="a" style="left:461px;top:337px;width:25px;height:35px;background:#ededed"></div>
<div class="t" style="left:323px;top:343px;color:#111;font-size:10.6px;line-height:11px">Billions of National<br>Currency<span style="letter-spacing:-0.6px">|</span>Russia<span style="letter-spacing:-0.6px">|</span>GGBXI<span style="letter-spacing:-0.6px">|</span>A</div>
<div class="a" style="left:487px;top:336px;width:55px;height:36px;background:#6a8236"></div>
<div class="t s11" style="left:487px;width:47px;text-align:right;top:347.5px;color:#1a1a1a">98.46</div>
<div class="a" style="left:542px;top:336px;width:55px;height:36px;background:#ffd700"></div>
<div class="t s11" style="left:542px;width:47px;text-align:right;top:347.5px;color:#1a1a1a">21.40</div>
<div class="a" style="left:597px;top:336px;width:55px;height:36px;background:#e9a935"></div>
<div class="t s11" style="left:597px;width:47px;text-align:right;top:347.5px;color:#1a1a1a">17.68</div>
<div class="a" style="left:652px;top:336px;width:58px;height:36px;background:#b2c942"></div>
<div class="t s11" style="left:652px;width:49px;text-align:right;top:347.5px;color:#1a1a1a">55.48</div>
<div class="a" style="left:710px;top:336px;width:54px;height:36px;background:#6a8236"></div>
<div class="t s11" style="left:710px;width:45px;text-align:right;top:347.5px;color:#1a1a1a">94.85</div>
<div class="a" style="left:764px;top:336px;width:63px;height:36px;background:#ffd700"></div>
<div class="t s11" style="left:764px;width:55px;text-align:right;top:347.5px;color:#1a1a1a">37.11</div>
<div class="a" style="left:316px;top:373px;width:144px;height:35px;background:#ededed"></div>
<div class="a" style="left:461px;top:373px;width:25px;height:35px;background:#ededed"></div>
<div class="t" style="left:323px;top:379px;color:#111;font-size:10.6px;line-height:11px">Billions of National<br>Currency<span style="letter-spacing:-0.6px">|</span>Russia<span style="letter-spacing:-0.6px">|</span>NMS_R<span style="letter-spacing:-0.6px">|</span>A</div>
<div class="a" style="left:487px;top:372px;width:55px;height:36px;background:#ffd700"></div>
<div class="t s11" style="left:487px;width:47px;text-align:right;top:383.5px;color:#1a1a1a">31.45</div>
<div class="a" style="left:542px;top:372px;width:55px;height:36px;background:#ffd700"></div>
<div class="t s11" style="left:542px;width:47px;text-align:right;top:383.5px;color:#1a1a1a">55.00</div>
<div class="a" style="left:597px;top:372px;width:55px;height:36px;background:#e9a935"></div>
<div class="t s11" style="left:597px;width:47px;text-align:right;top:383.5px;color:#1a1a1a">9.00</div>
<div class="a" style="left:652px;top:372px;width:58px;height:36px;background:#b2c942"></div>
<div class="t s11" style="left:652px;width:49px;text-align:right;top:383.5px;color:#1a1a1a">62.59</div>
<div class="a" style="left:710px;top:372px;width:54px;height:36px;background:#e9a935"></div>
<div class="t s11" style="left:710px;width:45px;text-align:right;top:383.5px;color:#1a1a1a">18.37</div>
<div class="a" style="left:764px;top:372px;width:63px;height:36px;background:#b2c942"></div>
<div class="t s11" style="left:764px;width:55px;text-align:right;top:383.5px;color:#1a1a1a">62.90</div>
<div class="a" style="left:316px;top:409px;width:144px;height:35px;background:#ededed"></div>
<div class="a" style="left:461px;top:409px;width:25px;height:35px;background:#ededed"></div>
<div class="t" style="left:323px;top:415px;color:#111;font-size:10.6px;line-height:11px">Billions of US<br>Dollars<span style="letter-spacing:-0.6px">|</span>Russia<span style="letter-spacing:-0.6px">|</span>BCA<span style="letter-spacing:-0.6px">|</span>A</div>
<div class="a" style="left:487px;top:408px;width:55px;height:36px;background:#ff4a2c"></div>
<div class="t s11" style="left:487px;width:47px;text-align:right;top:419.5px;color:#1a1a1a">4.23</div>
<div class="a" style="left:542px;top:408px;width:55px;height:36px;background:#ff4a2c"></div>
<div class="t s11" style="left:542px;width:47px;text-align:right;top:419.5px;color:#1a1a1a">2.81</div>
<div class="a" style="left:597px;top:408px;width:55px;height:36px;background:#ff4a2c"></div>
<div class="t s11" style="left:597px;width:47px;text-align:right;top:419.5px;color:#1a1a1a">3.85</div>
<div class="a" style="left:652px;top:408px;width:58px;height:36px;background:#ff4a2c"></div>
<div class="t s11" style="left:652px;width:49px;text-align:right;top:419.5px;color:#1a1a1a">3.71</div>
<div class="a" style="left:710px;top:408px;width:54px;height:36px;background:#e9a935"></div>
<div class="t s11" style="left:710px;width:45px;text-align:right;top:419.5px;color:#1a1a1a">4.57</div>
<div class="a" style="left:764px;top:408px;width:63px;height:36px;background:#ff4a2c"></div>
<div class="t s11" style="left:764px;width:55px;text-align:right;top:419.5px;color:#1a1a1a">2.52</div>
<div class="a" style="left:486px;top:256px;width:1px;height:188px;background:#b4b4bc"></div>
<div class="a" style="left:597px;top:408px;width:56px;height:37px;border:2px solid #87909b"></div>

<!-- h scrollbar -->
<div class="a" style="left:331px;top:502px;width:482px;height:10px;background:#f4f4f4;border-top:1px solid #cfcfcf;border-bottom:1px solid #cfcfcf"></div>
<div class="btn" style="left:316px;top:499px;width:16px;height:16px"></div>
<svg class="a" style="left:323px;top:505px" width="3" height="5"><path d="M3 0V5L0 2.5Z" fill="#999"/></svg>
<div class="btn" style="left:332px;top:499px;width:86px;height:16px"></div>
<div class="a" style="left:371px;top:504px;width:1.3px;height:5px;background:#6a6a6a"></div>
<div class="a" style="left:375.3px;top:504px;width:1.3px;height:5px;background:#6a6a6a"></div>
<div class="a" style="left:379.6px;top:504px;width:1.3px;height:5px;background:#6a6a6a"></div>
<div class="btn" style="left:812px;top:499px;width:16px;height:16px"></div>
<svg class="a" style="left:818px;top:505px" width="4" height="6"><path d="M0 0V6L3.5 3Z" fill="#444"/></svg>
<div class="a" style="left:32px;top:516px;width:796px;height:1px;background:#dcdcdc"></div>

<!-- statistics -->
<div class="btn" style="left:32px;top:530px;width:70px;height:21px;border-color:#b8b8b8"></div>
<div class="t" style="left:42px;top:534px;color:#333;letter-spacing:0.15px">Statistics</div>

<!-- POPUP -->
<div class="a" style="left:516px;top:127px;width:315px;height:80px;background:rgba(0,0,0,0.13);filter:blur(1.5px)"></div>
<div class="a" style="left:515px;top:124px;width:316px;height:81px;background:#f4f4f4;border:1px solid #8c8c8c"></div>
<div class="a" style="left:516px;top:125px;width:314px;height:54px;background:#fff"></div>
<div class="a" style="left:517px;top:126px;width:52px;height:52px;border:1px solid #f2b48a;background:#fff"></div>
<div class="a" style="left:520px;top:179px;width:307px;height:1px;background:#cfcfcf"></div>
<div class="a" style="left:541px;top:181px;width:1px;height:22px;background:#d8d8d8"></div>
<svg class="a" style="left:523px;top:185px" width="12" height="12" viewBox="0 0 12 12"><path d="M1.4 1.6L10.6 10.6M10.6 1.6L1.4 10.6" stroke="#dc1818" stroke-width="1.5"/></svg>
<div class="t" style="left:549.5px;top:186px;color:#333;letter-spacing:-0.3px">Remove</div>
<svg class="a" style="left:526px;top:135px" width="19" height="34" viewBox="0 0 19 34">
<path d="M1.5 1.1 H17.0 Q17.6 1.1 17.3 2.1 L15.4 5.7 Q15.2 6.7 14.2 6.7 H2 Q1.5 6.7 1.5 5.7 V2.1 Q1.5 1.1 2.5 1.1Z" fill="#98d850" stroke="#6cb830" stroke-width="1"/>
<path d="M1.5 8.2 H14.8 Q15.4 8.2 15.1 9.2 L13.6 11.6 Q13.4 12.6 12.4 12.6 H2 Q1.5 12.6 1.5 11.6 V9.2 Q1.5 8.2 2.5 8.2Z" fill="#e2e454" stroke="#c4c420" stroke-width="1"/>
<path d="M1.5 14.2 H12.9 Q13.5 14.2 13.2 15.2 L11.7 17.7 Q11.5 18.7 10.5 18.7 H2 Q1.5 18.7 1.5 17.7 V15.2 Q1.5 14.2 2.5 14.2Z" fill="#f6e27c" stroke="#dcbc30" stroke-width="1"/>
<path d="M1.5 20.1 H11.1 Q11.7 20.1 11.4 21.1 L9.9 23.5 Q9.7 24.5 8.7 24.5 H2 Q1.5 24.5 1.5 23.5 V21.1 Q1.5 20.1 2.5 20.1Z" fill="#ffbe6c" stroke="#f07a10" stroke-width="1"/>
<path d="M1.5 26.1 H9.2 Q9.8 26.1 9.5 27.1 L7.4 31.7 Q7.2 32.7 6.2 32.7 H2 Q1.5 32.7 1.5 31.7 V27.1 Q1.5 26.1 2.5 26.1Z" fill="#f07080" stroke="#cc3444" stroke-width="1"/>
</svg>
<svg class="a" style="left:578px;top:135px" width="19" height="34" viewBox="0 0 19 34">
<path d="M1.5 1.1 H17.0 Q17.6 1.1 17.3 2.1 L15.4 5.7 Q15.2 6.7 14.2 6.7 H2 Q1.5 6.7 1.5 5.7 V2.1 Q1.5 1.1 2.5 1.1Z" fill="#f07080" stroke="#cc3444" stroke-width="1"/>
<path d="M1.5 8.2 H14.8 Q15.4 8.2 15.1 9.2 L13.6 11.6 Q13.4 12.6 12.4 12.6 H2 Q1.5 12.6 1.5 11.6 V9.2 Q1.5 8.2 2.5 8.2Z" fill="#ffbe6c" stroke="#f07a10" stroke-width="1"/>
<path d="M1.5 14.2 H12.9 Q13.5 14.2 13.2 15.2 L11.7 17.7 Q11.5 18.7 10.5 18.7 H2 Q1.5 18.7 1.5 17.7 V15.2 Q1.5 14.2 2.5 14.2Z" fill="#f6e27c" stroke="#dcbc30" stroke-width="1"/>
<path d="M1.5 20.1 H11.1 Q11.7 20.1 11.4 21.1 L9.9 23.5 Q9.7 24.5 8.7 24.5 H2 Q1.5 24.5 1.5 23.5 V21.1 Q1.5 20.1 2.5 20.1Z" fill="#e2e454" stroke="#c4c420" stroke-width="1"/>
<path d="M1.5 26.1 H9.2 Q9.8 26.1 9.5 27.1 L7.4 31.7 Q7.2 32.7 6.2 32.7 H2 Q1.5 32.7 1.5 31.7 V27.1 Q1.5 26.1 2.5 26.1Z" fill="#98d850" stroke="#6cb830" stroke-width="1"/>
</svg>
<svg class="a" style="left:630px;top:135px" width="19" height="34" viewBox="0 0 19 34"><defs><linearGradient id="g630" x1="0" y1="0" x2="0" y2="1"><stop offset="0" stop-color="#2a63ad"/><stop offset="1" stop-color="#ffffff"/></linearGradient></defs><path d="M1.5 2.6 Q1.5 1.1 3 1.1 H16.3 Q17.6 1.1 17.2 2.6 L8.4 31.6 Q8 32.6 6.8 32.6 H3 Q1.5 32.6 1.5 31.2Z" fill="url(#g630)" stroke="#2c5f9c" stroke-width="1.2"/></svg>
<svg class="a" style="left:682px;top:135px" width="19" height="34" viewBox="0 0 19 34"><defs><linearGradient id="g682" x1="0" y1="0" x2="0" y2="1"><stop offset="0" stop-color="#4e9a16"/><stop offset="1" stop-color="#ffffff"/></linearGradient></defs><path d="M1.5 2.6 Q1.5 1.1 3 1.1 H16.3 Q17.6 1.1 17.2 2.6 L8.4 31.6 Q8 32.6 6.8 32.6 H3 Q1.5 32.6 1.5 31.2Z" fill="url(#g682)" stroke="#4e9420" stroke-width="1.2"/></svg>
<svg class="a" style="left:734px;top:135px" width="19" height="34" viewBox="0 0 19 34"><defs><linearGradient id="g734" x1="0" y1="0" x2="0" y2="1"><stop offset="0" stop-color="#f01828"/><stop offset="1" stop-color="#ffffff"/></linearGradient></defs><path d="M1.5 2.6 Q1.5 1.1 3 1.1 H16.3 Q17.6 1.1 17.2 2.6 L8.4 31.6 Q8 32.6 6.8 32.6 H3 Q1.5 32.6 1.5 31.2Z" fill="url(#g734)" stroke="#d02030" stroke-width="1.2"/></svg>
<svg class="a" style="left:786px;top:135px" width="19" height="34" viewBox="0 0 19 34"><defs><linearGradient id="g786" x1="0" y1="0" x2="0" y2="1"><stop offset="0" stop-color="#a0a0a0"/><stop offset="1" stop-color="#ffffff"/></linearGradient></defs><path d="M1.5 2.6 Q1.5 1.1 3 1.1 H16.3 Q17.6 1.1 17.2 2.6 L8.4 31.6 Q8 32.6 6.8 32.6 H3 Q1.5 32.6 1.5 31.2Z" fill="url(#g786)" stroke="#8c8c8c" stroke-width="1.2"/></svg>
<div class="t" style="left:550px;top:153px;font-size:15px;line-height:15px;color:#333">5</div>
<div class="t" style="left:602px;top:153px;font-size:15px;line-height:15px;color:#333">5</div>
<div class="t" style="left:654px;top:153px;font-size:15px;line-height:15px;color:#333">5</div>
<div class="t" style="left:706px;top:153px;font-size:15px;line-height:15px;color:#333">5</div>
<div class="t" style="left:758px;top:153px;font-size:15px;line-height:15px;color:#333">5</div>
<div class="t" style="left:810px;top:153px;font-size:15px;line-height:15px;color:#333">5</div>
</body></html>
